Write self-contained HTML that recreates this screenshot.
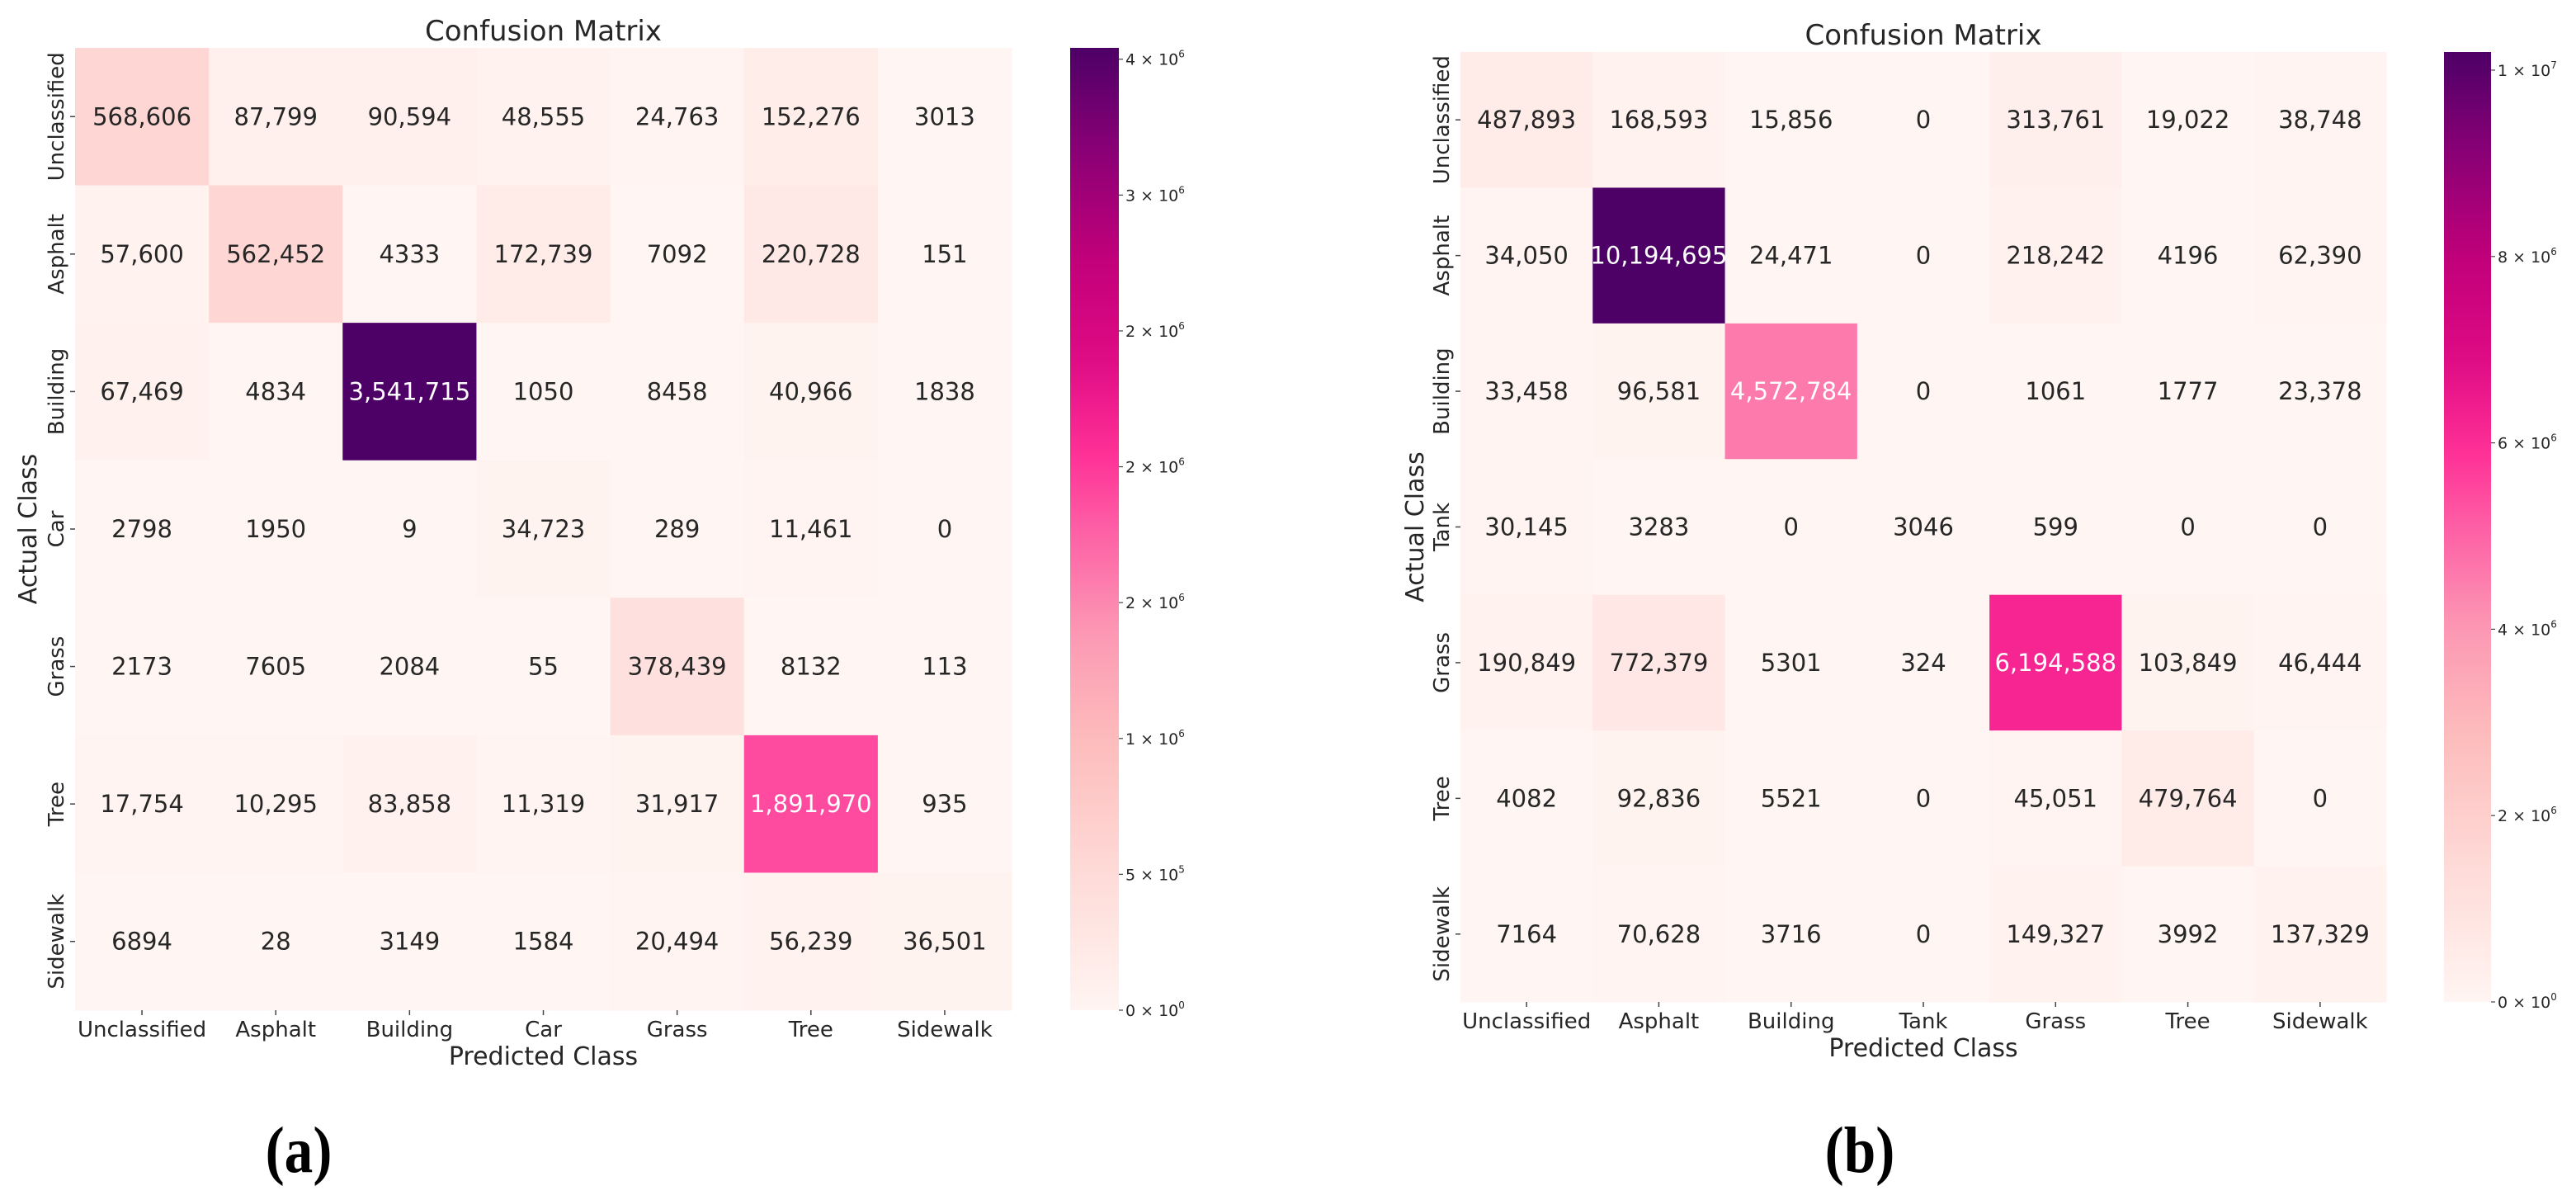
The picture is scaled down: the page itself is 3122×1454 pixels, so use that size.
<!DOCTYPE html>
<html><head><meta charset="utf-8">
<style>
html,body{margin:0;padding:0;background:#fff;}
svg{display:block;font-family:"DejaVu Sans","Liberation Sans",sans-serif;}
</style></head>
<body>
<svg id="fig" width="3122" height="1454" viewBox="0 0 3122 1454"></svg>
<script>
const classesA = ["Unclassified","Asphalt","Building","Car","Grass","Tree","Sidewalk"];
const classesB = ["Unclassified","Asphalt","Building","Tank","Grass","Tree","Sidewalk"];
const valuesA = [
 [568606,87799,90594,48555,24763,152276,3013],
 [57600,562452,4333,172739,7092,220728,151],
 [67469,4834,3541715,1050,8458,40966,1838],
 [2798,1950,9,34723,289,11461,0],
 [2173,7605,2084,55,378439,8132,113],
 [17754,10295,83858,11319,31917,1891970,935],
 [6894,28,3149,1584,20494,56239,36501]
];
const valuesB = [
 [487893,168593,15856,0,313761,19022,38748],
 [34050,10194695,24471,0,218242,4196,62390],
 [33458,96581,4572784,0,1061,1777,23378],
 [30145,3283,0,3046,599,0,0],
 [190849,772379,5301,324,6194588,103849,46444],
 [4082,92836,5521,0,45051,479764,0],
 [7164,70628,3716,0,149327,3992,137329]
];
const ticksA = [0,500000,1000000,1500000,2000000,2500000,3000000,3500000];
const tickLabelsA = [["0","0"],["5","5"],["1","6"],["2","6"],["2","6"],["2","6"],["3","6"],["4","6"]];
const ticksB = [0,2000000,4000000,6000000,8000000,10000000];
const tickLabelsB = [["0","0"],["2","6"],["4","6"],["6","6"],["8","6"],["1","7"]];

const NS="http://www.w3.org/2000/svg";
const svg=document.getElementById('fig');
function mk(tag,attrs,parent,text){const e=document.createElementNS(NS,tag);for(const k in attrs)e.setAttribute(k,attrs[k]);if(text!==undefined)e.textContent=text;(parent||svg).appendChild(e);return e;}

const stops=[[0,"#fff5f2"],[0.15,"#fed9d6"],[0.28,"#fdbcbc"],[0.39,"#fc99b4"],[0.5,"#fd5fa5"],[0.58,"#ff2f96"],[0.68,"#dd0a84"],[0.78,"#c2007a"],[0.9,"#860075"],[1,"#4d0066"]];
function hex(h){return [parseInt(h.substr(1,2),16),parseInt(h.substr(3,2),16),parseInt(h.substr(5,2),16)];}
function cmap(t){t=Math.max(0,Math.min(1,t));for(let i=1;i<stops.length;i++){if(t<=stops[i][0]){const a=stops[i-1],b=stops[i];const f=(t-a[0])/(b[0]-a[0]);const ca=hex(a[1]),cb=hex(b[1]);return "rgb("+ca.map((v,j)=>Math.round(v+(cb[j]-v)*f)).join(",")+")";}}return stops[stops.length-1][1];}
function fmt(v){return v>=10000?v.toLocaleString("en-US"):String(v);}

function drawPanel(cfg){
  const g=mk('g',{});
  
  
  const vals=cfg.values, n=cfg.classes.length;
  let vmax=0; vals.forEach(r=>r.forEach(v=>{if(v>vmax)vmax=v;}));
  const cw=(cfg.x1-cfg.x0)/n, ch=(cfg.y1-cfg.y0)/n;
  const xs=i=>cfg.x0+i*cw, ys=j=>cfg.y0+j*ch;
  // title
  const t=mk('text',{x:(cfg.x0+cfg.x1)/2,y:cfg.titleY,'text-anchor':'middle','font-size':34,fill:'#262626'},g,'Confusion Matrix');
  
  for(let r=0;r<n;r++)for(let c=0;c<n;c++){
    const v=vals[r][c], tt=v/vmax;
    const rect=mk('rect',{x:xs(c),y:ys(r),width:cw+0.6,height:ch+0.6,fill:cmap(tt)},g);
    
    
    const tx=mk('text',{x:xs(c)+cw/2,y:ys(r)+ch/2+10,'text-anchor':'middle','font-size':29,fill:tt>0.44?'#ffffff':'#262626'},g,fmt(v));
    
    
  }
  for(let i=0;i<n;i++){
    mk('line',{x1:xs(i)+cw/2,x2:xs(i)+cw/2,y1:cfg.y1,y2:cfg.y1+6,stroke:'#444','stroke-width':1.5},g);
    const xl=mk('text',{x:xs(i)+cw/2,y:cfg.y1+32,'text-anchor':'middle','font-size':26,fill:'#262626'},g,cfg.classes[i]);
    
    
    mk('line',{x1:cfg.x0-6,x2:cfg.x0,y1:ys(i)+ch/2,y2:ys(i)+ch/2,stroke:'#444','stroke-width':1.5},g);
    const cy=ys(i)+ch/2, cx=cfg.x0-14;
    const yl=mk('text',{x:cx,y:cy,'text-anchor':'middle','font-size':26,fill:'#262626',transform:'rotate(-90 '+cx+' '+cy+')'},g,cfg.classes[i]);
    
    
  }
  const xt=mk('text',{x:(cfg.x0+cfg.x1)/2,y:cfg.y1+66,'text-anchor':'middle','font-size':30,fill:'#262626'},g,'Predicted Class');
  
  const ax=cfg.yTitleX, ay=(cfg.y0+cfg.y1)/2;
  const yt=mk('text',{x:ax,y:ay,'text-anchor':'middle','font-size':30,fill:'#262626',transform:'rotate(-90 '+ax+' '+ay+')'},g,'Actual Class');
  
  // colorbar
  const gid='grad'+cfg.name;
  const defs=mk('defs',{},g);
  const lg=mk('linearGradient',{id:gid,x1:0,y1:1,x2:0,y2:0},defs);
  for(let k=0;k<=40;k++){mk('stop',{offset:k/40,'stop-color':cmap(k/40)},lg);}
  const cb=mk('rect',{x:cfg.cbx0,y:cfg.y0,width:cfg.cbx1-cfg.cbx0,height:cfg.y1-cfg.y0,fill:'url(#'+gid+')'},g);
  
  const cys=v=>cfg.y1-(v/vmax)*(cfg.y1-cfg.y0);
  cfg.ticks.forEach((tv,i)=>{
    const y=cys(tv);
    mk('line',{x1:cfg.cbx1,x2:cfg.cbx1+5,y1:y,y2:y,stroke:'#444','stroke-width':1.2},g);
    const lab=mk('text',{x:cfg.cbx1+8,y:y+7,'font-size':19,fill:'#262626'},g);
    
    
    mk('tspan',{},lab,cfg.labels[i][0]+' \u00d7 10');
    mk('tspan',{dy:-9,'font-size':12},lab,cfg.labels[i][1]);
  });
  // panel letter
  const pl=mk('text',{x:0,y:0,'text-anchor':'middle','font-size':66,'font-weight':'bold','font-family':'"Liberation Serif",serif',fill:'#000',transform:'translate('+cfg.letterX+' 1420) scale(1.05 1.2)'},g,cfg.letter);
  
}
drawPanel({name:'panel-a',classes:classesA,values:valuesA,x0:91,x1:1226,y0:58,y1:1224,titleY:49,yTitleX:44,cbx0:1297,cbx1:1356,ticks:ticksA,labels:tickLabelsA,letter:'(a)',letterX:362});
drawPanel({name:'panel-b',classes:classesB,values:valuesB,x0:1770,x1:2892,y0:63,y1:1214,titleY:54,yTitleX:1725,cbx0:2962,cbx1:3019,ticks:ticksB,labels:tickLabelsB,letter:'(b)',letterX:2254});
</script>
</body></html>
